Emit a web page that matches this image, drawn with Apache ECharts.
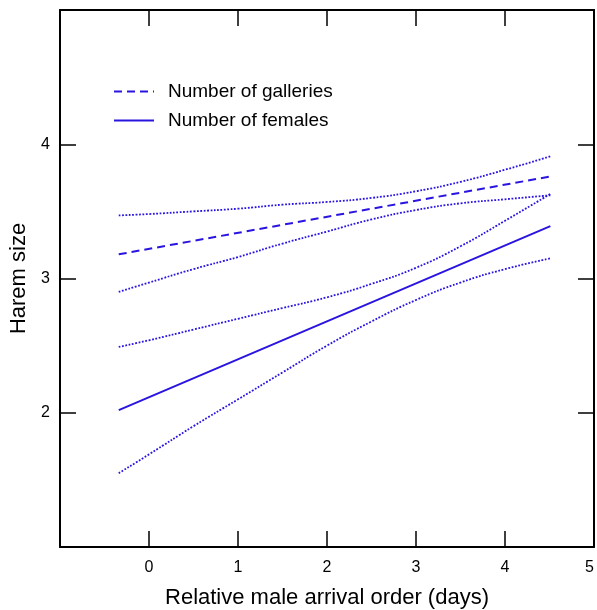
<!DOCTYPE html>
<html>
<head>
<meta charset="utf-8">
<script src="https://cdn.jsdelivr.net/npm/echarts@6/dist/echarts.min.js"></script>
<style>
  html, body { margin: 0; padding: 0; background: #fff; }
  #chart { width: 597px; height: 610px; }
</style>
</head>
<body>
<div id="chart"></div>
<script>
// values
let ciX = [-0.34, 0, 0.5, 1, 1.5, 2, 2.5, 3, 3.5, 4, 4.51];
let lineX = [-0.34, 4.51];

let galleriesFit = [3.18, 3.76];
let galleriesUpper = [3.47, 3.48, 3.50, 3.52, 3.55, 3.57, 3.60, 3.65, 3.72, 3.81, 3.91];
let galleriesLower = [2.90, 2.97, 3.07, 3.16, 3.26, 3.35, 3.44, 3.51, 3.56, 3.59, 3.62];

let femalesFit = [2.02, 3.39];
let femalesUpper = [2.49, 2.54, 2.62, 2.70, 2.78, 2.86, 2.96, 3.08, 3.24, 3.43, 3.63];
let femalesLower = [1.55, 1.69, 1.90, 2.10, 2.30, 2.50, 2.68, 2.84, 2.97, 3.07, 3.15];

let xLabels = ['0', '1', '2', '3', '4', '5'];
let yLabels = ['2', '3', '4'];

let blue = '#2a14e0';
let font = 'Liberation Sans, Arial, Helvetica, sans-serif';

function pairs(xs, ys) {
  return xs.map((x, i) => [x, ys[i]]);
}

let myChart = echarts.init(document.getElementById('chart'));

function ciSeries(name, xs, ys) {
  return {
    name: name,
    type: 'line',
    data: pairs(xs, ys),
    smooth: true,
    symbol: 'none',
    silent: true,
    lineStyle: { color: blue, width: 1.8, type: [1.8, 1.6] }
  };
}

let frameLine = { show: true, onZero: false, lineStyle: { color: '#000', width: 2 } };
let inTick = { show: true, inside: true, length: 16, lineStyle: { color: '#000', width: 1.5 } };

let option = {
  animation: false,
  grid: { left: 60, right: 3, top: 10, bottom: 63, containLabel: false, outerBoundsMode: 'none' },
  legend: {
    data: ['Number of galleries', 'Number of females'],
    orient: 'vertical',
    left: 108,
    top: 77,
    itemWidth: 40,
    itemHeight: 16,
    itemGap: 10,
    itemStyle: { color: 'transparent', borderColor: 'transparent', borderWidth: 0 },
    textStyle: { fontFamily: font, fontSize: 19, color: '#000', padding: [0, 0, 0, 9] }
  },
  xAxis: [
    {
      type: 'value',
      min: -1,
      max: 5,
      interval: 1,
      position: 'bottom',
      name: 'Relative male arrival order (days)',
      nameLocation: 'middle',
      nameGap: 40,
      nameTextStyle: { fontFamily: font, fontSize: 22, color: '#000' },
      axisLine: frameLine,
      axisTick: inTick,
      splitLine: { show: false },
      axisLabel: {
        margin: 13,
        fontFamily: font,
        fontSize: 16,
        color: '#000',
        showMinLabel: true,
        showMaxLabel: true,
        alignMaxLabel: 'right',
        formatter: v => (xLabels.indexOf(String(v)) >= 0 ? String(v) : '')
      }
    },
    {
      type: 'value',
      min: -1,
      max: 5,
      interval: 1,
      position: 'top',
      axisLine: frameLine,
      axisTick: inTick,
      splitLine: { show: false },
      axisLabel: { show: false }
    }
  ],
  yAxis: [
    {
      type: 'value',
      min: 1,
      max: 5,
      interval: 1,
      position: 'left',
      name: 'Harem size',
      nameLocation: 'middle',
      nameGap: 30,
      nameTextStyle: { fontFamily: font, fontSize: 22, color: '#000' },
      axisLine: frameLine,
      axisTick: inTick,
      splitLine: { show: false },
      axisLabel: {
        margin: 10,
        fontFamily: font,
        fontSize: 16,
        color: '#000',
        formatter: v => (yLabels.indexOf(String(v)) >= 0 ? String(v) : '')
      }
    },
    {
      type: 'value',
      min: 1,
      max: 5,
      interval: 1,
      position: 'right',
      axisLine: frameLine,
      axisTick: inTick,
      splitLine: { show: false },
      axisLabel: { show: false }
    }
  ],
  series: [
    {
      name: 'Number of galleries',
      type: 'line',
      data: pairs(lineX, galleriesFit),
      symbol: 'none',
      lineStyle: { color: blue, width: 2, type: [8, 5] },
      itemStyle: { color: blue }
    },
    {
      name: 'Number of females',
      type: 'line',
      data: pairs(lineX, femalesFit),
      symbol: 'none',
      lineStyle: { color: blue, width: 2, type: 'solid' },
      itemStyle: { color: blue }
    },
    ciSeries('galleries upper', ciX, galleriesUpper),
    ciSeries('galleries lower', ciX, galleriesLower),
    ciSeries('females upper', ciX, femalesUpper),
    ciSeries('females lower', ciX, femalesLower)
  ]
};

myChart.setOption(option);
</script>
</body>
</html>
